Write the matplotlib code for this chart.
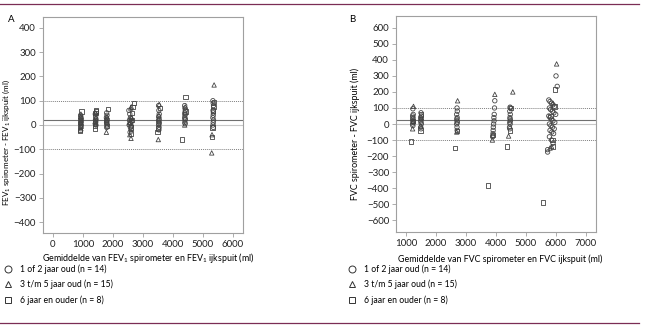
import matplotlib
matplotlib.use('Agg')
import matplotlib.pyplot as plt
from matplotlib.lines import Line2D

plt.rcParams['font.family'] = ['Lato', 'DejaVu Sans']
plt.rcParams['mathtext.fontset'] = 'custom'
plt.rcParams['mathtext.rm'] = 'Lato'

# ---- data (ml) ----
# panel A: FEV1
fev_circle_x = [920, 930, 940, 925, 935, 930, 920, 940, 930, 925,
                1410, 1420, 1430, 1415, 1425, 1420, 1410, 1430,
                1790, 1800, 1780, 1795, 1805, 1790, 1785, 1800, 1795, 1790,
                2530, 2560, 2580, 2600, 2550, 2620, 2570, 2590, 2540, 2610, 2580, 2600, 2570,
                3520, 3530, 3540, 3525, 3535, 3530, 3520, 3540, 3530, 3525, 3535, 3530,
                4390, 4400, 4410, 4395, 4405, 4400, 4390, 4410, 4400, 4395, 4405,
                5330, 5340, 5350, 5335, 5345, 5340, 5330, 5350, 5340, 5335, 5345]
fev_circle_y = [40, 30, 25, 20, 15, 10, 5, 0, -5, -10,
                45, 35, 25, 20, 15, 10, 5, 0,
                50, 40, 30, 25, 20, 15, 10, 5, 0, -10,
                60, 45, 30, 25, 20, 15, 10, 5, 0, -5, -10, -20, -30,
                80, 60, 45, 35, 25, 20, 15, 10, 5, 0, -10, -20,
                80, 70, 60, 50, 45, 40, 30, 25, 20, 10, 5,
                100, 90, 80, 60, 50, 40, 30, 20, 10, 0, -10]
fev_tri_x = [930, 920, 935, 925, 940, 930,
             1420, 1430, 1410, 1425,
             1800, 1790, 1780,
             2610, 2590, 2560, 2600, 2620, 2550,
             3540, 3510, 3530,
             4410, 4390,
             5370, 5290, 5300]
fev_tri_y = [45, 35, 20, 10, -5, -15,
             50, 30, 15, 5,
             35, 20, -30,
             75, 70, -40, -55, 30, 10,
             85, -60, 40,
             75, 0,
             165, -115, -40]
fev_sq_x = [950, 900, 910,
            1440, 1430, 1420, 1400, 1410,
            1830, 1800,
            2690, 2650, 2640, 2620, 2600, 2610,
            3560, 3480, 3500,
            4420, 4300, 4410,
            5360, 5350, 5340, 5300, 5310]
fev_sq_y = [55, -25, -20,
            60, 55, 50, -15, -5,
            65, -5,
            90, 75, 50, 20, -10, -35,
            70, -30, -15,
            115, -60, 55,
            95, 75, 60, -50, -10]

# panel B: FVC
fvc_circle_x = [1230, 1240, 1220, 1235, 1225, 1230, 1240, 1220, 1230,
                1500, 1510, 1490, 1505, 1495, 1500, 1510, 1490, 1500,
                2700, 2710, 2690, 2705, 2695, 2700, 2710, 2690, 2700, 2705,
                3960, 3950, 3940, 3930, 3935, 3920, 3910, 3905, 3900, 3895, 3890,
                4470, 4480, 4460, 4475, 4465, 4470, 4480, 4460, 4470, 4450, 4460,
                5760, 5800, 5850, 5900, 5950, 5780, 5820, 5880, 5930, 5990, 5760, 5800,
                5850, 5900, 5960, 5780, 5830, 5880, 5940, 5800, 5860, 5920, 5780, 5850,
                5900, 5720, 5720, 6000, 6040]
fvc_circle_y = [95, 60, 50, 40, 30, 20, 10, 0, -10,
                70, 50, 40, 30, 20, 10, 0, -20, -30,
                100, 80, 60, 40, 30, 20, 10, 0, -20, -40,
                145, 100, 60, 40, 20, 0, -20, -40, -60, -75, -80,
                105, 100, 80, 60, 40, 30, 20, 10, 0, -20, -30,
                150, 140, 130, 120, 110, 100, 90, 80, 70, 60, 50, 40,
                30, 20, 10, 0, -10, -20, -30, -40, -50, -60, -80, -100,
                -120, -160, -175, 300, 235]
fvc_tri_x = [1250, 1220, 1240,
             1510, 1490,
             2720, 2690,
             3960, 3880,
             4560, 4420,
             6020, 5900, 5850, 5800]
fvc_tri_y = [110, -30, 15,
             40, -10,
             145, -50,
             185, -100,
             200, -75,
             375, 130, -140, -150]
fvc_sq_x = [1170, 1230,
            1490, 1510,
            2630, 2690,
            3730, 3910,
            4370, 4460, 4490,
            5970, 5570, 5880, 5900, 5950, 5820]
fvc_sq_y = [-110, 20,
            -40, 60,
            -150, -45,
            -385, -70,
            -140, -40, 100,
            215, -490, -100, -140, 110, 50]

fev_mean = 20
fvc_mean = 25
limits = [-100, 100]

legend_labels = ['1 of 2 jaar oud (n = 14)',
                 '3 t/m 5 jaar oud (n = 15)',
                 '6 jaar en ouder (n = 8)']

edge = '#444444'
spine_col = '#a0a0a0'
purple = '#7b2d55'

fig = plt.figure(figsize=(6.48, 3.28), dpi=100)
axA = fig.add_axes([43 / 648, 1 - 233 / 328, 200 / 648, 216 / 328])
axB = fig.add_axes([396 / 648, 1 - 232 / 328, 200 / 648, 216 / 328])


def style_axes(ax, mean, xlim, ylim, xticks, yticks):
    ax.axhline(0, color='#c8c8c8', lw=0.8, zorder=1)
    ax.axhline(mean, color='#707070', lw=0.8, zorder=1)
    for l in limits:
        ax.axhline(l, color='#808080', lw=0.7, ls=(0, (1, 1)), zorder=1)
    ax.set_xlim(*xlim)
    ax.set_ylim(*ylim)
    ax.set_xticks(xticks)
    ax.set_yticks(yticks)
    for s in ax.spines.values():
        s.set_color(spine_col)
        s.set_linewidth(0.8)
    ax.tick_params(direction='out', length=3, width=0.6, color=spine_col,
                   labelsize=7, labelcolor='#222222', pad=2)


def scatter_groups(ax, cx, cy, tx, ty, sx, sy):
    kw = dict(facecolors='none', edgecolors=edge, linewidths=0.6, zorder=3)
    ax.scatter(cx, cy, marker='o', s=10, **kw)
    ax.scatter(tx, ty, marker='^', s=10, **kw)
    ax.scatter(sx, sy, marker='s', s=10, **kw)


scatter_groups(axA, fev_circle_x, fev_circle_y, fev_tri_x, fev_tri_y, fev_sq_x, fev_sq_y)
style_axes(axA, fev_mean, (-333, 6333), (-445, 445),
           range(0, 6001, 1000), range(-400, 401, 100))
axA.set_ylabel('FEV$_\\mathregular{1}$ spirometer - FEV$_\\mathregular{1}$ ijkspuit (ml)',
               fontsize=5.8)
axA.yaxis.set_label_coords((12 - 43) / 200, (233 - 142) / 216)
axA.set_xlabel('Gemiddelde van FEV$_\\mathregular{1}$ spirometer en FEV$_\\mathregular{1}$ ijkspuit (ml)',
               fontsize=6.4)
axA.xaxis.set_label_coords((148 - 43) / 200, -(251 - 233) / 216)

scatter_groups(axB, fvc_circle_x, fvc_circle_y, fvc_tri_x, fvc_tri_y, fvc_sq_x, fvc_sq_y)
style_axes(axB, fvc_mean, (667, 7333), (-674, 674),
           range(1000, 7001, 1000), range(-600, 601, 100))
axB.set_ylabel('FVC spirometer - FVC ijkspuit (ml)', fontsize=6.4)
axB.yaxis.set_label_coords((360 - 396) / 200, (232 - 134) / 216)
axB.set_xlabel('Gemiddelde van FVC spirometer en FVC ijkspuit (ml)', fontsize=6.4)
axB.xaxis.set_label_coords((500 - 396) / 200, -(254 - 232) / 216)

fig.text(8 / 648, 1 - 20 / 328, 'A', fontsize=7, va='center')
fig.text(349 / 648, 1 - 20 / 328, 'B', fontsize=7, va='center')

handles = [Line2D([], [], ls='none', marker=m, markersize=5, markerfacecolor='none',
                  markeredgecolor='#333333', markeredgewidth=0.7) for m in ['o', '^', 's']]
for xpos in [4 / 648, 348 / 648]:
    fig.legend(handles, legend_labels, loc='upper left', bbox_to_anchor=(xpos, 1 - 264 / 328),
               frameon=False, fontsize=6.2, handlelength=1.0, handletextpad=0.9,
               labelspacing=0.7, borderpad=0, borderaxespad=0)

for yy in [1 - 3.5 / 328, 1 - 323 / 328]:
    fig.add_artist(Line2D([0, 639 / 648], [yy, yy], transform=fig.transFigure,
                          color=purple, lw=0.9))

fig.savefig('out.png', dpi=100)
